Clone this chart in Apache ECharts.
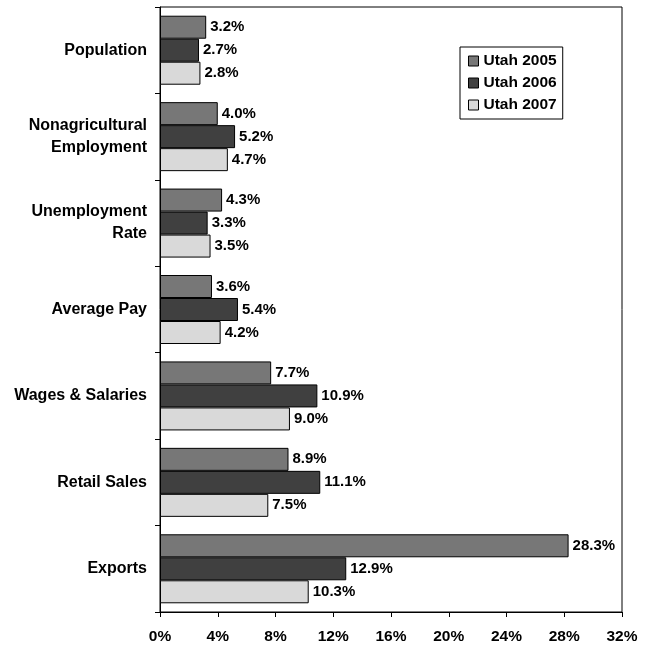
<!DOCTYPE html>
<html>
<head>
<meta charset="utf-8">
<script src="https://cdn.jsdelivr.net/npm/echarts@6/dist/echarts.min.js"></script>
<style>
  html, body { margin: 0; padding: 0; background: #fff; }
  #chart { width: 654px; height: 647px; }
</style>
</head>
<body>
<div id="chart"></div>
<script>
var categories = ['Population', 'Nonagricultural\nEmployment', 'Unemployment\nRate', 'Average Pay', 'Wages & Salaries', 'Retail Sales', 'Exports'];
var utah2005 = [3.2, 4.0, 4.3, 3.6, 7.7, 8.9, 28.3];
var utah2006 = [2.7, 5.2, 3.3, 5.4, 10.9, 11.1, 12.9];
var utah2007 = [2.8, 4.7, 3.5, 4.2, 9.0, 7.5, 10.3];

var chart = echarts.init(document.getElementById('chart'));
var font = 'Liberation Sans, Arial, sans-serif';

function makeSeries(name, data, color) {
  return {
    name: name,
    type: 'bar',
    data: data,
    barWidth: 23,
    barGap: '0%',
    itemStyle: { color: color, borderColor: '#000', borderWidth: 1 },
    label: {
      show: true,
      position: 'right',
      distance: 4,
      color: '#000',
      fontFamily: font,
      fontWeight: 'bold',
      fontSize: 15,
      formatter: function (p) { return p.value.toFixed(1) + '%'; }
    }
  };
}

var option = {
  animation: false,
  backgroundColor: '#fff',
  grid: {
    left: 160, right: 32, top: 7, bottom: 35,
    show: true, borderColor: '#000', borderWidth: 1
  },
  legend: {
    orient: 'vertical',
    left: 460, top: 47,
    itemWidth: 10, itemHeight: 10, itemGap: 4,
    padding: [5, 6, 5, 8],
    borderColor: '#000', borderWidth: 1,
    icon: 'rect',
    textStyle: { fontFamily: font, fontWeight: 'bold', fontSize: 15.5, color: '#000', lineHeight: 18 },
    data: [
      { name: 'Utah 2005', itemStyle: { borderColor: '#000', borderWidth: 1 } },
      { name: 'Utah 2006', itemStyle: { borderColor: '#000', borderWidth: 1 } },
      { name: 'Utah 2007', itemStyle: { borderColor: '#000', borderWidth: 1 } }
    ]
  },
  xAxis: {
    type: 'value',
    min: 0, max: 32, interval: 4,
    splitLine: { show: false },
    axisLine: { show: true, lineStyle: { color: '#000' } },
    axisTick: { show: true, length: 5, lineStyle: { color: '#000' } },
    axisLabel: {
      margin: 17,
      color: '#000', fontFamily: font, fontWeight: 'bold', fontSize: 15.5,
      formatter: '{value}%'
    }
  },
  yAxis: {
    type: 'category',
    inverse: true,
    data: categories,
    axisLine: { show: true, lineStyle: { color: '#000' } },
    axisTick: { show: true, length: 5, lineStyle: { color: '#000' } },
    axisLabel: {
      margin: 13,
      color: '#000', fontFamily: font, fontWeight: 'bold', fontSize: 16,
      lineHeight: 22, align: 'right'
    }
  },
  series: [
    makeSeries('Utah 2005', utah2005, '#777777'),
    makeSeries('Utah 2006', utah2006, '#404040'),
    makeSeries('Utah 2007', utah2007, '#d9d9d9')
  ]
};

chart.setOption(option);
</script>
</body>
</html>
